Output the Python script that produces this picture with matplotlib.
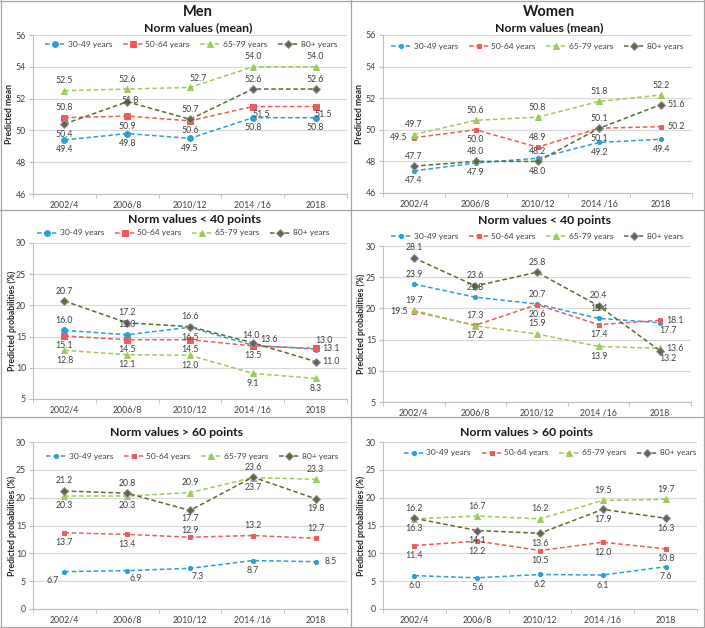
import matplotlib
matplotlib.use('Agg')
import matplotlib.pyplot as plt
from matplotlib.lines import Line2D

periods = ['2002/4', '2006/8', '2010/12', '2014 /16', '2018']
groups = ['30-49 years', '50-64 years', '65-79 years', '80+ years']

# Men, norm values (mean)
men_mean_3049 = [49.4, 49.8, 49.5, 50.8, 50.8]
men_mean_5064 = [50.8, 50.9, 50.6, 51.5, 51.5]
men_mean_6579 = [52.5, 52.6, 52.7, 54.0, 54.0]
men_mean_80 = [50.4, 51.8, 50.7, 52.6, 52.6]
# Women, norm values (mean)
women_mean_3049 = [47.4, 47.9, 48.2, 49.2, 49.4]
women_mean_5064 = [49.5, 50.0, 48.9, 50.1, 50.2]
women_mean_6579 = [49.7, 50.6, 50.8, 51.8, 52.2]
women_mean_80 = [47.7, 48.0, 48.0, 50.1, 51.6]
# Men, norm values < 40 points
men_lt40_3049 = [16.0, 15.3, 16.5, 13.6, 13.0]
men_lt40_5064 = [15.1, 14.5, 14.5, 13.5, 13.1]
men_lt40_6579 = [12.8, 12.1, 12.0, 9.1, 8.3]
men_lt40_80 = [20.7, 17.2, 16.6, 14.0, 11.0]
# Women, norm values < 40 points
women_lt40_3049 = [23.9, 21.8, 20.7, 18.4, 17.7]
women_lt40_5064 = [19.5, 17.3, 20.6, 17.4, 18.1]
women_lt40_6579 = [19.7, 17.2, 15.9, 13.9, 13.6]
women_lt40_80 = [28.1, 23.6, 25.8, 20.4, 13.2]
# Men, norm values > 60 points
men_gt60_3049 = [6.7, 6.9, 7.3, 8.7, 8.5]
men_gt60_5064 = [13.7, 13.4, 12.9, 13.2, 12.7]
men_gt60_6579 = [20.3, 20.3, 20.9, 23.6, 23.3]
men_gt60_80 = [21.2, 20.8, 17.7, 23.7, 19.8]
# Women, norm values > 60 points
women_gt60_3049 = [6.0, 5.6, 6.2, 6.1, 7.6]
women_gt60_5064 = [11.4, 12.2, 10.5, 12.0, 10.8]
women_gt60_6579 = [16.2, 16.7, 16.2, 19.5, 19.7]
women_gt60_80 = [16.3, 14.1, 13.6, 17.9, 16.3]

plt.rcParams['font.family'] = ['Lato', 'DejaVu Sans']

W, H = 705, 628
fig = plt.figure(figsize=(W / 100, H / 100), dpi=100)

colors = ['#2a9fd8', '#f05a5a', '#9dcb5c', '#5b6e2e']
markers = ['o', 's', '^', 'D']

OFF = {'a': (0, 10), 'b': (0, -10), 'r': (15, 0), 'l': (-15, 0),
       'br': (8, -8), 'ar': (8, 9), 'bl': (-12, -9), 'c': (3, 1),
       'a2': (-2, 7), 'r2': (16, 6), 'b2': (0, -8), 'a3': (0, 7)}


def fx(px):
    return px / W


def fy(py):
    return 1 - py / H


def panel(series, labpos, box, ylim, yticks, xmax, ylabel, ylx, titles, legpos, big):
    left, right, top, bottom = box
    ax = fig.add_axes([fx(left), fy(bottom), fx(right - left), (bottom - top) / H])
    x = list(range(len(periods)))
    msz = [4.2, 4.2, 5.0, 4.0] if big else [3.0, 3.4, 4.8, 3.6]
    handles = []
    for i, vals in enumerate(series):
        mec = '#9a86c2' if i == 3 else colors[i]
        ln, = ax.plot(x, vals, color=colors[i], lw=1.1, ls=(0, (3, 1.8)),
                      marker=markers[i], ms=msz[i], mfc=colors[i], mec=mec, mew=0.7,
                      zorder=3)
        handles.append(ln)
        for j, v in enumerate(vals):
            dx, dy = OFF[labpos[i][j]]
            ax.annotate(f'{v:.1f}', (j, v), xytext=(dx, dy), textcoords='offset pixels',
                        ha='center', va='center', fontsize=6.3, color='#404040', zorder=4)
    ax.set_xlim(-0.5, xmax)
    ax.set_ylim(*ylim)
    ax.set_yticks(yticks)
    ax.set_xticks(x)
    ax.set_xticklabels(periods)
    ax.set_xticks([k - 0.5 for k in range(len(periods) + 1)], minor=True)
    ax.tick_params(axis='x', which='major', length=0, pad=5, labelsize=6.3, labelcolor='#404040')
    ax.tick_params(axis='x', which='minor', length=3, color='#bfbfbf')
    ax.tick_params(axis='y', length=3, color='#bfbfbf', pad=2, labelsize=6.3, labelcolor='#404040')
    ax.grid(axis='y', color='#d9d9d9', lw=0.8)
    ax.set_axisbelow(True)
    for s in ['top', 'right']:
        ax.spines[s].set_visible(False)
    for s in ['left', 'bottom']:
        ax.spines[s].set_color('#bfbfbf')
        ax.spines[s].set_linewidth(0.8)
    fig.text(fx(ylx), fy((top + bottom) / 2), ylabel, rotation=90, ha='center', va='center',
             fontsize=6.2, fontweight='bold', color='#262626')
    for (tx, ty, t, fs) in titles:
        fig.text(fx(tx), fy(ty), t, ha='center', va='center', fontsize=fs,
                 fontweight='bold', color='#1a1a1a')
    lx, ly = legpos
    fig.legend(handles, groups, loc='center', bbox_to_anchor=(fx(lx), fy(ly)),
               ncol=4, frameon=False, fontsize=6.0, handlelength=2.4,
               columnspacing=1.3, handletextpad=0.3, labelcolor='#404040')
    return ax


panel([men_mean_3049, men_mean_5064, men_mean_6579, men_mean_80],
      [['b'] * 5, ['a', 'b', 'b', 'br', 'br'], ['a', 'a', 'ar', 'a', 'a'], ['b', 'c', 'a', 'a', 'a']],
      (33, 347, 35, 194), (46, 56), range(46, 57, 2), 4.42, 'Predicted mean', 10,
      [(198, 12, 'Men', 10.5), (198, 28, 'Norm values (mean)', 8.8)], (191, 44), True)
panel([women_mean_3049, women_mean_5064, women_mean_6579, women_mean_80],
      [['b', 'b', 'a3', 'b', 'b'], ['l', 'b', 'a', 'b', 'r'], ['a'] * 5, ['a', 'a', 'b', 'a', 'r']],
      (383, 692, 35, 193), (46, 56), range(46, 57, 2), 4.36, 'Predicted mean', 360,
      [(549, 12, 'Women', 10.5), (549, 28, 'Norm values (mean)', 8.8)], (537, 46), False)
panel([men_lt40_3049, men_lt40_5064, men_lt40_6579, men_lt40_80],
      [['a', 'a', 'b', 'r2', 'ar'], ['b', 'b', 'b', 'b', 'r'], ['b'] * 5, ['a', 'a', 'a', 'a2', 'r']],
      (33, 347, 243, 399), (5, 30), range(5, 31, 5), 4.5, 'Predicted probabilities (%)', 12,
      [(195, 220, 'Norm values < 40 points', 8.8)], (183, 233), True)
panel([women_lt40_3049, women_lt40_5064, women_lt40_6579, women_lt40_80],
      [['a', 'a', 'a', 'a', 'br'], ['l', 'a', 'b', 'b', 'r'], ['a', 'b', 'a', 'b', 'r'], ['a', 'a', 'a', 'a', 'br']],
      (383, 691, 246, 402), (5, 30), range(5, 31, 5), 4.5, 'Predicted probabilities (%)', 361,
      [(545, 221, 'Norm values < 40 points', 8.8)], (537, 236), False)
panel([men_gt60_3049, men_gt60_5064, men_gt60_6579, men_gt60_80],
      [['bl', 'br', 'br', 'b', 'r'], ['b', 'b', 'a3', 'a', 'a'], ['b', 'b', 'a', 'a', 'a'], ['a', 'a', 'b2', 'b', 'b']],
      (33, 347, 442, 609), (0, 30), range(0, 31, 5), 4.45, 'Predicted probabilities (%)', 12,
      [(177, 432, 'Norm values > 60 points', 8.8)], (192, 456), False)
panel([women_gt60_3049, women_gt60_5064, women_gt60_6579, women_gt60_80],
      [['b'] * 5, ['b'] * 5, ['a'] * 5, ['b'] * 5],
      (383, 697, 442, 609), (0, 30), range(0, 31, 5), 4.43, 'Predicted probabilities (%)', 361,
      [(527, 432, 'Norm values > 60 points', 8.8)], (550, 453), False)

# panel borders
bc = '#a6a6a6'
for y in [1, 210, 417, 627]:
    fig.add_artist(Line2D([0, 1], [fy(y), fy(y)], color=bc, lw=0.9, transform=fig.transFigure))
for x in [1, 351, 704]:
    fig.add_artist(Line2D([fx(x), fx(x)], [0, 1], color=bc, lw=0.9, transform=fig.transFigure))

fig.savefig('out.png', dpi=100)
